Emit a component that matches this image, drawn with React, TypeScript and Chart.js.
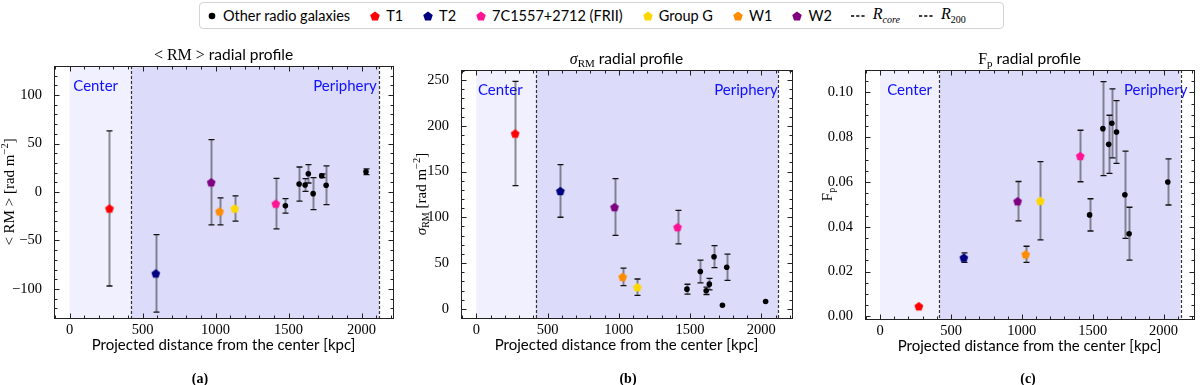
import React, { useEffect, useRef } from 'react';
import { Chart, registerables } from 'chart.js';
Chart.register(...registerables);

// ---------------- DATA ----------------
const sourceNames = ['T1', 'T2', '7C1557+2712 (FRII)', 'Group G', 'W1', 'W2'];
const sourceColors = ['#ff0000', '#000080', '#ff1493', '#ffd700', '#ff8c00', '#800080'];
const sourceDist = [273, 590, 1412, 1130, 1027, 970];

const otherLabel = 'Other radio galaxies';
const otherDist = [1478, 1572, 1613, 1635, 1668, 1727, 1757, 2030];

const rmSource = [-17, -84, -12, -17, -20, 10];
const rmSourceErr = [80, 40, 26, 13, 14, 44];
const rmOther = [-14.3, 8.2, 7.2, 18.8, -1.7, 16.8, 6.9, 20.9];
const rmOtherErr = [7.5, 17.6, 6.5, 9.5, 16.5, 2, 20, 3];

const sigmaSource = [191.6, 128.8, 89.3, 23.7, 35, 111.2];
const sigmaSourceErr = [57, 28.7, 18.3, 8.9, 9.6, 31];
const sigmaOther = [21.5, 40.8, 19.7, 27, 57, 4, 45.5, 8];
const sigmaOtherErr = [5.4, 12.4, 4, 6.3, 12, 0, 14.3, 0];

const fpSource = [0.0045, 0.0262, 0.0716, 0.0516, 0.0277, 0.0514];
const fpSourceErr = [0, 0.0021, 0.0115, 0.0175, 0.0036, 0.0088];
const fpOther = [0.0453, 0.0838, 0.0768, 0.0862, 0.0823, 0.0543, 0.0369, 0.06];
const fpOtherErr = [0.0072, 0.021, 0.013, 0.0154, 0.014, 0.0195, 0.0118, 0.0103];

const xTicks = [0, 500, 1000, 1500, 2000];
const rmTicks = [-100, -50, 0, 50, 100];
const sigmaTicks = [0, 50, 100, 150, 200, 250];
const fpTicks = [0, 0.02, 0.04, 0.06, 0.08, 0.1];

const R_CORE = 418;
const R_200 = 2120;
const X_MIN = -107;
const X_MAX = 2215;

// ---------------- HELPERS ----------------
const SERIF = '"Liberation Serif"';
const SANS = 'Lato';

type Seg = { t: string; font: string; dy?: number };

function drawRich(ctx: CanvasRenderingContext2D, segs: Seg[], x: number, y: number, align: string, rot = 0, color = '#000') {
  ctx.save();
  ctx.translate(x, y);
  ctx.rotate(rot);
  ctx.textAlign = 'left';
  ctx.textBaseline = 'alphabetic';
  ctx.fillStyle = color;
  let total = 0;
  const widths: number[] = [];
  for (const s of segs) {
    ctx.font = s.font;
    const w = ctx.measureText(s.t).width;
    widths.push(w);
    total += w;
  }
  let cx = align === 'center' ? -total / 2 : align === 'right' ? -total : 0;
  segs.forEach((s, i) => {
    ctx.font = s.font;
    ctx.fillText(s.t, cx, s.dy || 0);
    cx += widths[i];
  });
  ctx.restore();
}

function pentagonCanvas(color: string, r = 4.6) {
  const size = Math.ceil(r * 2 + 2);
  const c = document.createElement('canvas');
  c.width = size;
  c.height = size;
  const g = c.getContext('2d')!;
  const cx = size / 2;
  const cy = size / 2 + r * 0.1;
  g.beginPath();
  for (let i = 0; i < 5; i++) {
    const a = -Math.PI / 2 + (i * 2 * Math.PI) / 5;
    const px = cx + r * Math.cos(a);
    const py = cy + r * Math.sin(a);
    if (i === 0) g.moveTo(px, py);
    else g.lineTo(px, py);
  }
  g.closePath();
  g.fillStyle = color;
  g.fill();
  return c;
}

const minusFmt = (v: number) => (v < 0 ? '\u2212' + Math.abs(v) : String(v));

type PanelCfg = {
  src: number[];
  srcErr: number[];
  oth: number[];
  othErr: number[];
  yMin: number;
  yMax: number;
  yTicks: number[];
  yMinor: number;
  fmt: (v: number) => string;
  title: Seg[];
  yTitle: Seg[];
  yTitleX: number;
  letter: string;
  letterX: number;
  left: number;
  yAxisW: number;
  padRight: number;
  padTop: number;
  xAxisH: number;
  centerX: number;
  periphX: number;
};

const tSans = `15.5px ${SANS}`;
const tSerif = `16px ${SERIF}`;
const tSub = `11px ${SERIF}`;
const ySerif = `15px ${SERIF}`;
const ySup = `10.5px ${SERIF}`;

const panels: PanelCfg[] = [
  {
    src: rmSource, srcErr: rmSourceErr, oth: rmOther, othErr: rmOtherErr,
    yMin: -130, yMax: 130, yTicks: rmTicks, yMinor: 10, fmt: minusFmt,
    title: [{ t: '< RM >', font: tSerif }, { t: ' radial profile', font: tSans }],
    yTitle: [{ t: '< RM > [rad m', font: ySerif }, { t: '\u22122', font: ySup, dy: -6 }, { t: ']', font: ySerif }],
    yTitleX: 14, letter: '(a)', letterX: 200,
    left: 0, yAxisW: 54, padRight: 7, padTop: 26, xAxisH: 67, centerX: 25, periphX: 1668,
  },
  {
    src: sigmaSource, srcErr: sigmaSourceErr, oth: sigmaOther, othErr: sigmaOtherErr,
    yMin: -10, yMax: 261, yTicks: sigmaTicks, yMinor: 10, fmt: (v) => String(v),
    title: [{ t: '\u03c3', font: `italic ${tSerif}` }, { t: 'RM', font: tSub, dy: 3 }, { t: ' radial profile', font: tSans }],
    yTitle: [{ t: '\u03c3', font: `italic ${ySerif}` }, { t: 'RM', font: `10px ${SERIF}`, dy: 3 }, { t: ' [rad m', font: ySerif }, { t: '\u22122', font: ySup, dy: -6 }, { t: ']', font: ySerif }],
    yTitleX: 26, letter: '(b)', letterX: 228,
    left: 400, yAxisW: 61, padRight: 8, padTop: 30, xAxisH: 67, centerX: 12, periphX: 1669,
  },
  {
    src: fpSource, srcErr: fpSourceErr, oth: fpOther, othErr: fpOtherErr,
    yMin: -0.0012, yMax: 0.11, yTicks: fpTicks, yMinor: 0.005, fmt: (v) => v.toFixed(2),
    title: [{ t: 'F', font: tSerif }, { t: 'p', font: tSub, dy: 3 }, { t: ' radial profile', font: tSans }],
    yTitle: [{ t: 'F', font: ySerif }, { t: 'p', font: `10px ${SERIF}`, dy: 3 }],
    yTitleX: 32, letter: '(c)', letterX: 228,
    left: 800, yAxisW: 65, padRight: 3, padTop: 30, xAxisH: 66, centerX: 50, periphX: 1721,
  },
];

function makePlugin(p: PanelCfg) {
  return {
    id: 'decor',
    beforeDatasetsDraw(chart: any) {
      const { ctx, chartArea: a, scales } = chart;
      const xs = scales.x;
      const ys = scales.y;
      ctx.save();
      ctx.beginPath();
      ctx.rect(a.left, a.top, a.right - a.left, a.bottom - a.top);
      ctx.clip();
      const x0 = xs.getPixelForValue(0);
      const x1 = xs.getPixelForValue(R_CORE);
      const x2 = xs.getPixelForValue(R_200);
      ctx.fillStyle = '#f0f0fe';
      ctx.fillRect(x0, a.top, x1 - x0, a.bottom - a.top);
      ctx.fillStyle = '#dcdcfa';
      ctx.fillRect(x1, a.top, x2 - x1, a.bottom - a.top);
      ctx.strokeStyle = '#333';
      ctx.lineWidth = 1.2;
      ctx.setLineDash([3, 2]);
      for (const xx of [x1, x2]) {
        ctx.beginPath();
        ctx.moveTo(Math.round(xx) + 0.5, a.top);
        ctx.lineTo(Math.round(xx) + 0.5, a.bottom);
        ctx.stroke();
      }
      ctx.setLineDash([]);
      // region labels
      ctx.font = `15px ${SANS}`;
      ctx.fillStyle = '#1010ff';
      ctx.textBaseline = 'alphabetic';
      ctx.textAlign = 'left';
      ctx.fillText('Center', xs.getPixelForValue(p.centerX), a.top + 25);
      ctx.fillText('Periphery', xs.getPixelForValue(p.periphX), a.top + 25);
      // error bars
      chart.data.datasets.forEach((ds: any) => {
        ds.data.forEach((pt: any, i: number) => {
          const e = ds.errs[i];
          if (!e) return;
          const px = Math.round(xs.getPixelForValue(pt.x)) + 0.5;
          const yt = ys.getPixelForValue(pt.y + e);
          const yb = ys.getPixelForValue(pt.y - e);
          ctx.strokeStyle = 'rgba(0,0,0,0.42)';
          ctx.lineWidth = 2;
          ctx.beginPath();
          ctx.moveTo(px, yt);
          ctx.lineTo(px, yb);
          ctx.stroke();
          ctx.strokeStyle = '#111';
          ctx.lineWidth = 1.3;
          ctx.beginPath();
          ctx.moveTo(px - 3, yt);
          ctx.lineTo(px + 3, yt);
          ctx.moveTo(px - 3, yb);
          ctx.lineTo(px + 3, yb);
          ctx.stroke();
        });
      });
      ctx.restore();
    },
    afterDraw(chart: any) {
      const { ctx, chartArea: a, scales } = chart;
      const xs = scales.x;
      const ys = scales.y;
      ctx.save();
      ctx.strokeStyle = '#222';
      ctx.lineWidth = 1;
      ctx.strokeRect(Math.round(a.left) + 0.5, Math.round(a.top) + 0.5, Math.round(a.right - a.left), Math.round(a.bottom - a.top));
      // ticks
      const L = Math.round(a.left) + 0.5;
      const R = Math.round(a.right) + 0.5;
      const T = Math.round(a.top) + 0.5;
      const B = Math.round(a.bottom) + 0.5;
      ctx.beginPath();
      for (let k = Math.ceil(X_MIN / 100); k <= Math.floor(X_MAX / 100); k++) {
        const v = k * 100;
        const len = v % 500 === 0 ? 5 : 3;
        const px = Math.round(xs.getPixelForValue(v)) + 0.5;
        ctx.moveTo(px, B);
        ctx.lineTo(px, B - len);
        ctx.moveTo(px, T);
        ctx.lineTo(px, T + len);
      }
      const major = p.yTicks[1] - p.yTicks[0];
      const ratio = Math.round(major / p.yMinor);
      for (let k = Math.ceil(p.yMin / p.yMinor); k <= Math.floor(p.yMax / p.yMinor); k++) {
        const v = k * p.yMinor;
        const len = k % ratio === 0 ? 5 : 3;
        const py = Math.round(ys.getPixelForValue(v)) + 0.5;
        ctx.moveTo(L, py);
        ctx.lineTo(L + len, py);
        ctx.moveTo(R, py);
        ctx.lineTo(R - len, py);
      }
      ctx.stroke();
      // x tick labels
      ctx.font = `14.5px ${SERIF}`;
      ctx.fillStyle = '#000';
      ctx.textAlign = 'center';
      ctx.textBaseline = 'alphabetic';
      xs.ticks.forEach((t: any) => {
        ctx.fillText(String(t.value), xs.getPixelForValue(t.value), a.bottom + 15.5);
      });
      const cx = (a.left + a.right) / 2;
      drawRich(ctx, p.title, cx, a.top - 6, 'center');
      drawRich(ctx, [{ t: 'Projected distance from the center [kpc]', font: `15px ${SANS}` }], cx, a.bottom + 32, 'center');
      drawRich(ctx, p.yTitle, p.yTitleX, (a.top + a.bottom) / 2, 'center', -Math.PI / 2);
      drawRich(ctx, [{ t: p.letter, font: `bold 14px ${SERIF}` }], p.letterX, 343, 'center');
      ctx.restore();
    },
  };
}

function Panel({ p }: { p: PanelCfg }) {
  const ref = useRef<HTMLCanvasElement>(null);
  useEffect(() => {
    const datasets: any[] = sourceNames.map((name, i) => ({
      label: name,
      data: [{ x: sourceDist[i], y: p.src[i] }],
      errs: [p.srcErr[i]],
      pointStyle: pentagonCanvas(sourceColors[i]),
      pointRadius: 5,
      backgroundColor: sourceColors[i],
      borderColor: sourceColors[i],
    }));
    datasets.unshift({
      label: otherLabel,
      data: otherDist.map((x, i) => ({ x, y: p.oth[i] })),
      errs: p.othErr,
      pointStyle: 'circle',
      pointRadius: 2.8,
      borderWidth: 0,
      backgroundColor: '#000',
      borderColor: '#000',
    });
    const tickFont = { family: 'Liberation Serif', size: 14.5 };
    const chart = new Chart(ref.current!, {
      type: 'scatter',
      data: { datasets },
      options: {
        responsive: false,
        animation: false,
        devicePixelRatio: 1,
        layout: { padding: { left: 0, right: p.padRight, top: p.padTop, bottom: 0 } },
        plugins: { legend: { display: false }, tooltip: { enabled: false }, title: { display: false } },
        scales: {
          x: {
            type: 'linear',
            min: X_MIN,
            max: X_MAX,
            afterBuildTicks: (s: any) => { s.ticks = xTicks.map((v) => ({ value: v })); },
            afterFit: (s: any) => { s.height = p.xAxisH; },
            grid: { display: false },
            border: { display: false },
            ticks: { display: false },
          },
          y: {
            type: 'linear',
            min: p.yMin,
            max: p.yMax,
            afterBuildTicks: (s: any) => { s.ticks = p.yTicks.map((v) => ({ value: v })); },
            afterFit: (s: any) => { s.width = p.yAxisW; },
            grid: { display: false },
            border: { display: false },
            ticks: { font: tickFont, color: '#000', padding: 4, autoSkip: false, callback: (v: any) => p.fmt(Number(v)) },
          },
        },
      } as any,
      plugins: [makePlugin(p)],
    });
    return () => chart.destroy();
  }, []);
  return (
    <canvas
      ref={ref}
      width={400}
      height={345}
      style={{ position: 'absolute', left: p.left, top: 40, width: 400, height: 345 }}
    />
  );
}

function Pent({ color }: { color: string }) {
  const r = 5;
  const pts = Array.from({ length: 5 }, (_, i) => {
    const a = -Math.PI / 2 + (i * 2 * Math.PI) / 5;
    return `${6 + r * Math.cos(a)},${6.5 + r * Math.sin(a)}`;
  }).join(' ');
  return (
    <svg width={12} height={12} style={{ marginRight: 5 }}>
      <polygon points={pts} fill={color} />
    </svg>
  );
}

function Dash() {
  return (
    <svg width={14} height={4} style={{ marginRight: 8 }}>
      <line x1={0} y1={2} x2={14} y2={2} stroke="#000" strokeWidth={1.4} strokeDasharray="3.2 2" />
    </svg>
  );
}

export default function App() {
  const item: React.CSSProperties = { display: 'inline-flex', alignItems: 'center', whiteSpace: 'nowrap' };
  return (
    <div style={{ position: 'fixed', left: 0, top: 0, width: 1200, height: 385, background: '#fff', overflow: 'hidden' }}>
      <div
        style={{
          position: 'absolute', left: 199, top: 2, width: 805, height: 27, boxSizing: 'border-box',
          border: '1px solid #d4d4d4', borderRadius: 4, display: 'flex', alignItems: 'center',
          justifyContent: 'flex-start', paddingLeft: 8, gap: 19, fontFamily: SANS, fontSize: 14.5, color: '#000',
        }}
      >
        <span style={item}>
          <svg width={8} height={8} style={{ marginRight: 7 }}><circle cx={4} cy={4} r={3.3} fill="#000" /></svg>
          {otherLabel}
        </span>
        {sourceNames.map((n, i) => (
          <span key={n} style={item}>
            <Pent color={sourceColors[i]} />
            {n}
          </span>
        ))}
        <span style={item}>
          <Dash />
          <span style={{ fontFamily: SERIF, fontStyle: 'italic', fontSize: 16 }}>
            R<sub style={{ fontSize: 10 }}>core</sub>
          </span>
        </span>
        <span style={item}>
          <Dash />
          <span style={{ fontFamily: SERIF, fontSize: 16 }}>
            <i>R</i><sub style={{ fontSize: 10 }}>200</sub>
          </span>
        </span>
      </div>
      {panels.map((p, i) => (
        <Panel key={i} p={p} />
      ))}
    </div>
  );
}
